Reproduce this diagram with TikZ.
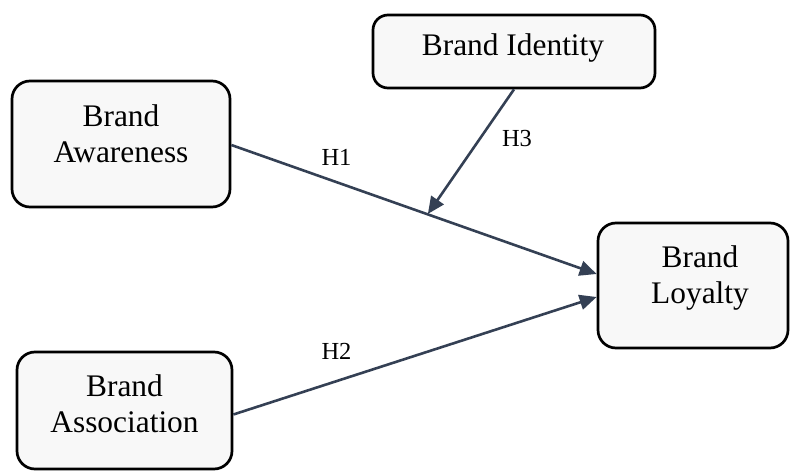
\documentclass[tikz,border=0pt]{standalone}
\usepackage{fontspec}
\setmainfont{Liberation Serif}
\usetikzlibrary{arrows.meta,calc}
\definecolor{arr}{HTML}{344054}
\definecolor{boxfill}{HTML}{F8F8F8}
\begin{document}
\begin{tikzpicture}[x=1pt,y=-1pt,
  box/.style={draw=black, line width=2.7pt, fill=boxfill, rounded corners=18pt, inner sep=0pt},
  txt/.style={font=\fontsize{31.4}{36}\selectfont, align=center, inner sep=0pt, anchor=base},
  lab/.style={font=\fontsize{24.5}{29}\selectfont, inner sep=0pt, anchor=base},
  conn/.style={draw=arr, line width=2.6pt, -{Triangle[length=17pt,width=15pt]}}
]
\useasboundingbox (0,0) rectangle (790,471);
% boxes
\node[box, minimum width=218pt, minimum height=126pt] (aw) at (121,144) {};
\node[box, minimum width=282pt, minimum height=73pt, rounded corners=15pt] (bi) at (514,51.5) {};
\node[box, minimum width=190pt, minimum height=125pt] (bl) at (693,285.5) {};
\node[box, minimum width=215pt, minimum height=117pt] (as) at (124.5,410.5) {};
% texts (anchor base = last line's baseline)
\node[txt] (awt) at (121,162) {Brand\\Awareness};
\node[txt] (bit) at (513,55) {Brand Identity};
\node[txt] (blt) at (700,303) {Brand\\Loyalty};
\node[txt] (ast) at (124.5,432) {Brand\\Association};
% connectors
\coordinate (t1) at ($(bl.west)+(0,-11.5)$);
\coordinate (t2) at ($(bl.west)+(0,11.5)$);
\draw[conn] ($(aw.east)+(0,1)$) -- (t1);
\draw[conn] ($(as.east)+(0,4)$) -- (t2);
\coordinate (m) at ($(aw.east)!0.538!(t1)$);
\draw[conn] (bi.south) -- (m);
% labels
\node[lab] (h1) at (336.5,165) {H1};
\node[lab] (h2) at (336.5,359) {H2};
\node[lab] (h3) at (517,146) {H3};
\end{tikzpicture}
\end{document}
